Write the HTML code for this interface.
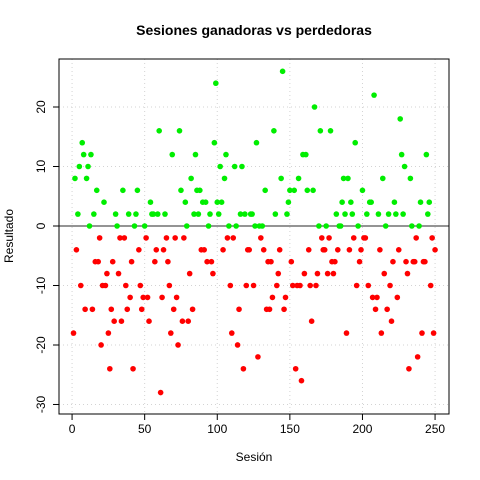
<!DOCTYPE html>
<html><head><meta charset="utf-8">
<style>
html,body{margin:0;padding:0;background:#fff;}
svg{display:block;font-family:"Liberation Sans",sans-serif;}
</style></head>
<body>
<svg id="chart" width="480" height="480">
</svg>
<script>
const sessions = [1,2,3,4,5,6,7,8,9,10,11,12,13,14,15,16,17,18,19,20,21,22,23,24,25,26,27,28,29,30,31,32,33,35,36,38,39,40,41,42,43,44,45,46,47,48,49,50,51,52,53,54,55,57,58,59,60,61,62,63,64,65,67,68,69,70,72,73,74,75,76,77,78,79,80,81,82,83,84,85,86,87,88,89,90,91,92,93,94,95,96,97,98,99,100,101,103,104,105,106,107,110,111,112,113,114,115,116,117,118,119,120,121,122,123,124,125,126,127,128,129,130,131,132,133,134,135,136,137,138,139,140,141,142,143,144,145,146,147,148,149,150,151,152,153,154,155,156,157,158,159,160,161,162,163,164,165,166,167,168,169,170,171,172,173,174,175,176,177,178,179,180,181,182,183,184,185,186,187,188,189,190,191,192,193,194,195,196,197,198,199,200,202,203,204,205,206,207,208,209,210,211,212,213,214,215,216,218,219,220,221,222,223,224,225,226,227,229,230,231,233,234,235,236,237,238,239,240,241,243,244,245,246,247,248,249,250,109,102,108,232,242,201,217,228,34,37,56,66,71];
const values   = [-18,8,-4,2,10,-10,14,12,-14,8,10,0,12,-14,2,-6,6,-6,-2,-20,-10,4,-10,-8,-18,-24,-14,-6,-16,2,0,-8,-2,6,-2,-14,2,-12,-6,-24,0,2,6,-4,-10,-14,-12,0,-2,-12,-16,4,2,-6,-4,2,16,-28,-12,-4,2,-2,-10,-18,12,-14,-12,-20,16,6,-16,-2,4,0,-16,-8,8,-14,2,12,6,2,6,-4,4,-4,4,-6,0,2,-6,-8,14,24,4,2,4,-4,8,12,-2,-18,-2,10,0,-20,-14,2,10,-24,2,-10,-4,-4,2,2,-10,0,14,-22,0,-2,0,-4,6,-14,-6,-14,-6,-12,16,2,-10,-8,-4,8,26,-14,-12,2,4,6,-6,-10,6,-24,-10,8,-10,-26,12,-8,12,6,-4,-10,-16,6,20,-10,-8,0,16,-2,-4,-4,0,-8,-2,16,-6,-8,-6,2,-4,0,0,4,8,2,-18,8,-4,4,2,-2,14,-10,0,-6,-4,6,-2,2,-10,4,4,-12,22,-14,-12,2,-4,-18,8,-8,0,2,-10,-16,-6,4,2,-12,-4,18,12,10,-6,-8,8,0,-6,-6,-2,-22,0,4,-18,-6,12,2,4,-10,-2,-18,-4,-10,10,0,-24,-6,-2,-14,2,-16,-10,2,-6,-2,-8,2];

const W=480,H=480;
const L=59,R=449,T=59,B=414;
const xMin=-9, xMax=259.6, yMin=-31.6, yMax=28.07;
const xTicks=[0,50,100,150,200,250];
const yTicks=[-30,-20,-10,0,10,20];
const sx=v=>L+(v-xMin)/(xMax-xMin)*(R-L);
const sy=v=>B-(v-yMin)/(yMax-yMin)*(B-T);
const svg=document.getElementById('chart');
const NS='http://www.w3.org/2000/svg';
function mk(tag,attrs,parent){const e=document.createElementNS(NS,tag);for(const k in attrs)e.setAttribute(k,attrs[k]);(parent||svg).appendChild(e);return e;}

const grid=mk('g',{});


xTicks.forEach(t=>{const l=mk('line',{x1:sx(t),x2:sx(t),y1:T,y2:B,stroke:'#d3d3d3','stroke-dasharray':'1,3'},grid);

});
yTicks.forEach(t=>{const l=mk('line',{x1:L,x2:R,y1:sy(t),y2:sy(t),stroke:'#d3d3d3','stroke-dasharray':'1,3'},grid);

});

const zero=mk('line',{x1:L,x2:R,y1:sy(0),y2:sy(0),stroke:'#555','stroke-width':1.2});



const pts=mk('g',{});


sessions.forEach((s,i)=>{const v=values[i];
const c=mk('circle',{cx:sx(s),cy:sy(v),r:2.8,fill:v>=0?'#00ee00':'#ff0000'},pts);

});

const box=mk('rect',{x:L,y:T,width:R-L,height:B-T,fill:'none',stroke:'#000','stroke-width':1});



xTicks.forEach(t=>{const l=mk('line',{x1:sx(t),x2:sx(t),y1:B,y2:B+6,stroke:'#000'});


const tx=mk('text',{x:sx(t),y:B+19,'text-anchor':'middle','font-size':12});tx.textContent=t;

});
yTicks.forEach(t=>{const l=mk('line',{x1:L-6,x2:L,y1:sy(t),y2:sy(t),stroke:'#000'});


const tx=mk('text',{x:0,y:0,'text-anchor':'middle','font-size':12,transform:`translate(${L-14},${sy(t)}) rotate(-90)`});tx.textContent=t;

});
</script>
<svg width="0" height="0"></svg>
<div style="position:absolute;left:0;top:0;width:480px;height:480px;pointer-events:none;">
<svg width="480" height="480" style="position:absolute;left:0;top:0">
<text x="254" y="35" text-anchor="middle" font-size="14" font-weight="bold" font-family="Liberation Sans, sans-serif">Sesiones ganadoras vs perdedoras</text>
<text x="254" y="461" text-anchor="middle" font-size="12" font-family="Liberation Sans, sans-serif">Sesión</text>
<text transform="translate(13,236) rotate(-90)" text-anchor="middle" font-size="12" font-family="Liberation Sans, sans-serif">Resultado</text>
</svg></div>
</body></html>
